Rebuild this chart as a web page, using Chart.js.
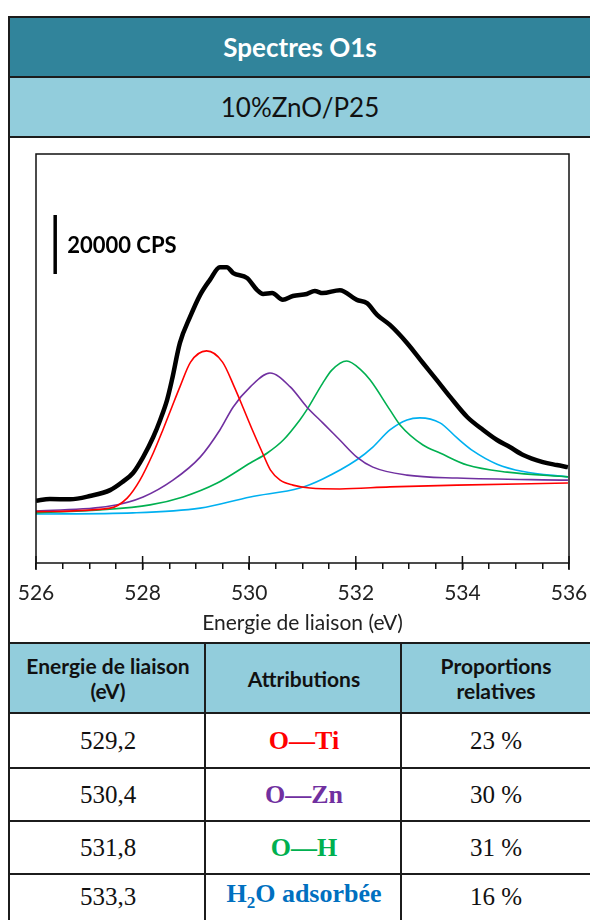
<!DOCTYPE html>
<html>
<head>
<meta charset="utf-8">
<script src="https://cdn.jsdelivr.net/npm/chart.js@4.4.1/dist/chart.umd.min.js"></script>
<style>
  body { margin: 0; width: 590px; height: 920px; overflow: hidden; background: #fff; font-family: Lato, sans-serif; }
  .abs { position: absolute; }
  .line { position: absolute; background: #1c1c1c; }
  .band { position: absolute; left: 10px; width: 580px; display: flex; align-items: center; justify-content: center; }
  .cell { position: absolute; display: flex; align-items: center; justify-content: center; text-align: center; }
  .hdr { font-weight: bold; font-size: 21px; line-height: 25px; color: #111; }
  .val { font-family: "Liberation Serif", serif; font-size: 25px; color: #111; }
  .att { font-family: "Liberation Serif", serif; font-size: 26px; font-weight: bold; }
</style>
</head>
<body>

<div class="band" style="top:18px;height:58px;background:#31849B;color:#fff;font-weight:bold;font-size:26px;">Spectres O1s</div>
<div class="band" style="top:78px;height:58px;background:#92CDDC;color:#111;font-size:26px;">10%ZnO/P25</div>
<div class="abs" style="left:10px;top:138px;width:580px;height:505px;">
  <canvas id="xps" width="580" height="505"></canvas>
</div>
<div id="table"></div>

<div class="line" style="left:8px;top:16px;width:582px;height:2px;"></div>
<div class="line" style="left:8px;top:76px;width:582px;height:2px;"></div>
<div class="line" style="left:8px;top:136px;width:582px;height:2px;"></div>
<div class="line" style="left:8px;top:16px;width:2px;height:904px;"></div>

<script>
// experimental O1s envelope (binding energy in eV, counts per second)
const expE   = [526.00, 526.26, 526.64, 527.01, 527.39, 527.63, 527.82, 528.01, 528.20, 528.33, 528.46, 528.55, 528.70, 528.89, 529.08, 529.26, 529.45, 529.58, 529.70, 529.96, 530.15, 530.26, 530.43, 530.63, 530.82, 531.08, 531.23, 531.38, 531.70, 532.02, 532.21, 532.40, 532.64, 532.96, 533.26, 533.52, 533.77, 534.09, 534.39, 534.65, 534.89, 535.14, 535.51, 535.77, 535.98];
const expCps = [21100, 21700, 21600, 22700, 24700, 27600, 30500, 35900, 42700, 48500, 55300, 62000, 74600, 83400, 90900, 95900, 100300, 100300, 98300, 96600, 92500, 91200, 91500, 89200, 90500, 91200, 92200, 91500, 92500, 89200, 88100, 84100, 80700, 74600, 67800, 62000, 56300, 49500, 45100, 41700, 39300, 36600, 34200, 33200, 32500];

// fitted components
const tiE   = [526.00, 527.39, 527.71, 527.95, 528.20, 528.38, 528.55, 528.70, 528.90, 529.20, 529.50, 529.72, 529.88, 530.06, 530.25, 530.40, 530.58, 530.82, 531.14, 531.70, 532.64, 533.90, 535.98];
const tiCps = [17400, 18600, 22000, 28100, 37300, 45100, 52900, 59700, 68100, 71900, 68100, 59700, 52900, 45100, 37300, 31500, 28100, 26400, 25400, 25100, 25800, 26400, 27100];

const znE   = [526.00, 527.39, 528.01, 528.57, 529.08, 529.45, 529.70, 530.02, 530.39, 530.77, 531.08, 531.38, 531.70, 532.02, 532.32, 532.96, 533.90, 535.98];
const znCps = [17600, 19300, 22400, 28100, 35900, 45100, 52900, 59700, 64400, 59700, 52900, 47500, 41700, 35900, 32500, 29800, 28800, 28100];

const ohE   = [526.00, 527.20, 528.14, 528.76, 529.40, 530.02, 530.34, 530.64, 530.95, 531.08, 531.38, 531.55, 531.83, 532.10, 532.27, 532.64, 532.83, 533.26, 533.58, 534.09, 534.84, 535.98];
const ohCps = [17000, 18000, 19700, 22400, 27100, 33900, 37300, 41700, 48500, 51900, 61000, 65400, 68500, 65400, 62000, 51900, 46800, 40000, 37300, 33200, 30800, 29200];

const h2oE   = [526.00, 527.82, 529.08, 530.02, 530.95, 531.38, 532.02, 532.32, 532.64, 532.96, 533.20, 533.58, 533.90, 534.20, 534.65, 535.14, 535.98];
const h2oCps = [16600, 17000, 18600, 22400, 25400, 28500, 35000, 39300, 45100, 48500, 49200, 47500, 42400, 38000, 33500, 31000, 29200];

// 20000 CPS scale bar
const barE = [526.36, 526.36];
const barCps = [97970, 117970];
const barLabel = '20000 CPS';

const xTicks = [526, 528, 530, 532, 534, 536];
const xTitle = 'Energie de liaison (eV)';

// table
const energies = ['529,2', '530,4', '531,8', '533,3'];
const attributions = ['O\u2014Ti', 'O\u2014Zn', 'O\u2014H', 'H<sub style="font-size:17px">2</sub>O adsorbée'];
const attColors = ['#FF0000', '#7030A0', '#00B050', '#0070C0'];
const proportions = ['23 %', '30 %', '31 %', '16 %'];
const headers = ['Energie de liaison<br>(eV)', 'Attributions', 'Proportions<br>relatives'];

function pts(xs, ys) {
    return xs.map((x, i) => ({x: x, y: ys[i]}));
}

function line(data, color, width) {
    return {data: data, borderColor: color, borderWidth: width, pointRadius: 0, cubicInterpolationMode: 'monotone', fill: false};
}

const framePlugin = {
    id: 'frame',
    afterDatasetsDraw(chart) {
        const ctx = chart.ctx;
        const a = chart.chartArea;
        const xs = chart.scales.x;
        ctx.save();
        ctx.strokeStyle = '#111';
        ctx.lineWidth = 1.5;
        ctx.strokeRect(a.left, a.top, a.right - a.left, a.bottom - a.top);
        // major ticks cross the axis
        xTicks.forEach(v => {
            const px = xs.getPixelForValue(v);
            ctx.beginPath();
            ctx.moveTo(px, a.bottom - 7);
            ctx.lineTo(px, a.bottom + 7);
            ctx.stroke();
        });
        // scale bar label
        const bx = xs.getPixelForValue(barE[0]);
        const by = chart.scales.y.getPixelForValue((barCps[0] + barCps[1]) / 2);
        ctx.fillStyle = '#000';
        ctx.font = 'bold 22px Lato';
        ctx.textBaseline = 'middle';
        ctx.fillText(barLabel, bx + 12, by + 1);
        ctx.restore();
    }
};

new Chart(document.getElementById('xps'), {
    type: 'line',
    data: {
        datasets: [
            line(pts(tiE, tiCps), '#FF0000', 1.6),
            line(pts(znE, znCps), '#7030A0', 1.6),
            line(pts(ohE, ohCps), '#00B050', 1.6),
            line(pts(h2oE, h2oCps), '#00B0F0', 1.6),
            line(pts(expE, expCps), '#000000', 4.5),
            line(pts(barE, barCps), '#000000', 3.5)
        ]
    },
    options: {
        responsive: false,
        animation: false,
        layout: {padding: {left: 26, top: 16, right: 21, bottom: 0}},
        plugins: {legend: {display: false}, tooltip: {enabled: false}},
        scales: {
            x: {
                type: 'linear',
                min: 526,
                max: 536,
                afterFit: s => { s.height = 80; s.paddingLeft = 0; s.paddingRight = 0; },
                border: {display: false},
                grid: {drawOnChartArea: false, drawTicks: true, tickLength: 6, color: '#111', lineWidth: 1.5},
                ticks: {
                    stepSize: 0.5,
                    autoSkip: false,
                    maxRotation: 0,
                    padding: 12,
                    color: '#222',
                    font: {family: 'Lato', size: 21},
                    callback: v => xTicks.includes(v) ? String(v) : ''
                },
                title: {display: true, text: xTitle, color: '#222', font: {family: 'Lato', size: 21}, padding: {top: 0, bottom: 7}}
            },
            y: {display: false, min: 0, max: 138650}
        }
    },
    plugins: [framePlugin]
});

// table drawing
const table = document.getElementById('table');
const colX = [10, 206, 402, 590];
const rowY = [644, 714, 769, 822, 875, 920];
let html = '';
headers.forEach((h, c) => {
    html += `<div class="cell hdr" style="left:${colX[c]}px;top:${rowY[0]}px;width:${colX[c+1]-colX[c]}px;height:${rowY[1]-rowY[0]-2}px;background:#92CDDC;">${h}</div>`;
});
energies.forEach((e, r) => {
    const top = rowY[r+1], h = rowY[r+2] - rowY[r+1] - 2;
    html += `<div class="cell val" style="left:${colX[0]}px;top:${top}px;width:${colX[1]-colX[0]}px;height:${h}px;">${e}</div>`;
    html += `<div class="cell att" style="left:${colX[1]}px;top:${top}px;width:${colX[2]-colX[1]}px;height:${h}px;color:${attColors[r]};"><span>${attributions[r]}</span></div>`;
    html += `<div class="cell val" style="left:${colX[2]}px;top:${top}px;width:${colX[3]-colX[2]}px;height:${h}px;">${proportions[r]}</div>`;
});
[642, 712, 767, 820, 873].forEach(y => {
    html += `<div class="line" style="left:8px;top:${y}px;width:582px;height:2px;"></div>`;
});
[204, 400].forEach(x => {
    html += `<div class="line" style="left:${x}px;top:642px;width:2px;height:278px;"></div>`;
});
table.innerHTML = html;
</script>
</body>
</html>
